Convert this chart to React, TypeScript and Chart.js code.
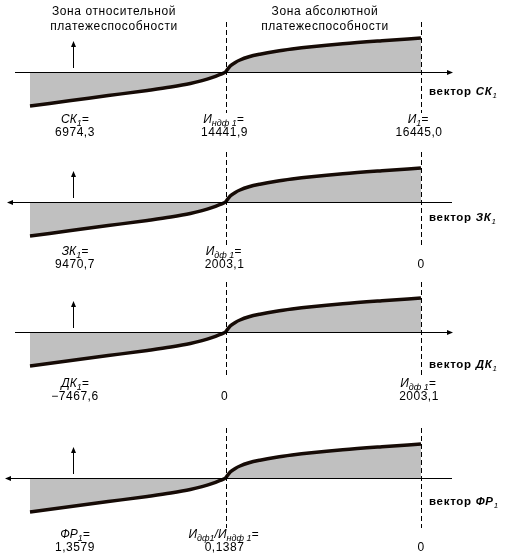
import React, { useEffect, useRef } from 'react';
import { Chart, registerables } from 'chart.js';

Chart.register(...registerables);

// curve shape: x 0 = left end, 50 = threshold, 100 = right end
const curveX = [0, 10, 20, 30, 36, 41, 44, 46.5, 48.5, 50, 51.2, 52.5, 53.7, 56, 58.8, 63, 67, 72, 80, 90, 100];
const curveY = [-34, -28.8, -23.6, -18.4, -15, -11.5, -8.6, -5.6, -2.6, 0, 6, 9.6, 12, 15.2, 17.8, 20.8, 23, 25.3, 28.3, 31.3, 34];

// marks on the horizontal axis
const THRESHOLD = 50;
const END = 100;

type Seg = { t: string; i?: boolean; b?: boolean; sub?: boolean };

const vectorNames = ['СК', 'ЗК', 'ДК', 'ФР'];
const leftValues = ['6974,3', '9470,7', '−7467,6', '1,3579'];
const midValues = ['14441,9', '2003,1', '0', '0,1387'];
const rightValues = ['16445,0', '0', '2003,1', '0'];

const I: Seg = { t: 'И', i: true };
const EQ: Seg = { t: '=', i: true };
const midCaptions: Seg[][] = [
  [I, { t: 'ндф 1', i: true, sub: true }, EQ],
  [I, { t: 'дф 1', i: true, sub: true }, EQ],
  [],
  [I, { t: 'дф1', i: true, sub: true }, { t: '/', i: true }, I, { t: 'ндф 1', i: true, sub: true }, EQ],
];
const rightCaptions: Seg[][] = [
  [I, { t: '1', i: true, sub: true }, EQ],
  [],
  [I, { t: 'дф 1', i: true, sub: true }, EQ],
  [],
];
const zoneTitles = [
  ['Зона относительной', 'платежеспособности'],
  ['Зона абсолютной', 'платежеспособности'],
];

// layout (pixels)
const W = 506;
const H = 560;
const PX_PER_UNIT = 3.91;
const X0_PX = 30;
const axisPx = [72, 202, 332, 478];
const arrowRight = [true, false, true, false];
const axisStartPx = [15, 8, 15, 6];
const axisEndPx = 452;
const captionDy = [48, 50, 52, 57];
const vectorDy = [20, 16, 33, 24];

const FONT = '"Liberation Sans", Arial, sans-serif';

function fontOf(s: Seg, size: number) {
  const sz = s.sub ? Math.round(size * 0.72) : size;
  return `${s.i ? 'italic ' : ''}${s.b ? 'bold ' : ''}${sz}px ${FONT}`;
}

function drawSegs(ctx: any, segs: Seg[], x: number, y: number, size: number, align: 'left' | 'center', spacing = 0) {
  ctx.letterSpacing = spacing + 'px';
  let w = 0;
  segs.forEach(s => {
    ctx.font = fontOf(s, size);
    w += ctx.measureText(s.t).width;
  });
  let cx = align === 'center' ? x - w / 2 : x;
  ctx.textAlign = 'left';
  ctx.textBaseline = 'middle';
  segs.forEach(s => {
    ctx.font = fontOf(s, size);
    ctx.fillText(s.t, cx, y + (s.sub ? size * 0.3 : 0));
    cx += ctx.measureText(s.t).width;
  });
  ctx.letterSpacing = '0px';
}

function arrowHead(ctx: any, x: number, y: number, dx: number, dy: number) {
  // filled head with tip at (x, y) pointing along (dx, dy)
  const len = 6;
  const half = 2.5;
  const px = -dy;
  const py = dx;
  ctx.beginPath();
  ctx.moveTo(x, y);
  ctx.lineTo(x - dx * len + px * half, y - dy * len + py * half);
  ctx.lineTo(x - dx * len - px * half, y - dy * len - py * half);
  ctx.closePath();
  ctx.fill();
}

const decor = {
  id: 'decor',
  afterDatasetsDraw(chart: any) {
    const { ctx } = chart;
    const xs = chart.scales.x;
    const xT = xs.getPixelForValue(THRESHOLD);
    const xE = xs.getPixelForValue(END);
    const xUp = xs.getPixelForValue(11);
    ctx.save();
    ctx.fillStyle = '#000';
    ctx.strokeStyle = '#000';

    zoneTitles.forEach((lines, k) => {
      const cx = k === 0 ? 114 : 325;
      lines.forEach((l, j) => drawSegs(ctx, [{ t: l }], cx, 12 + j * 14.5, 12, 'center', 0.6));
    });

    vectorNames.forEach((name, i) => {
      const y0 = chart.scales['y' + i].getPixelForValue(0);

      // horizontal axis
      ctx.lineWidth = 1;
      ctx.setLineDash([]);
      ctx.beginPath();
      ctx.moveTo(axisStartPx[i], y0 + 0.5);
      ctx.lineTo(axisEndPx, y0 + 0.5);
      ctx.stroke();
      if (arrowRight[i]) arrowHead(ctx, axisEndPx + 1, y0 + 0.5, 1, 0);
      else arrowHead(ctx, axisStartPx[i] - 1, y0 + 0.5, -1, 0);

      // small upward arrow
      ctx.beginPath();
      ctx.moveTo(Math.round(xUp) + 0.5, y0 - 4);
      ctx.lineTo(Math.round(xUp) + 0.5, y0 - 26);
      ctx.stroke();
      arrowHead(ctx, Math.round(xUp) + 0.5, y0 - 31, 0, -1);

      // dashed verticals
      ctx.setLineDash([5, 3]);
      [xT, xE].forEach(xp => {
        ctx.beginPath();
        ctx.moveTo(Math.round(xp) + 0.5, y0 - 50);
        ctx.lineTo(Math.round(xp) + 0.5, y0 + captionDy[i] - 7);
        ctx.stroke();
      });
      ctx.setLineDash([]);

      // vector label
      drawSegs(ctx, [{ t: 'вектор ', b: true }, { t: name, b: true, i: true }, { t: '1', i: true, sub: true }],
        429, y0 + vectorDy[i], 11.5, 'left', 0.7);

      // captions and values
      const yc = y0 + captionDy[i];
      const yv = yc + 13;
      const xL = xs.getPixelForValue(11.5);
      drawSegs(ctx, [{ t: name, i: true }, { t: '1', i: true, sub: true }, EQ], xL, yc, 12, 'center');
      drawSegs(ctx, [{ t: leftValues[i] }], xL, yv, 12, 'center', 0.5);
      if (midCaptions[i].length) drawSegs(ctx, midCaptions[i], xT - 2, yc, 12, 'center');
      drawSegs(ctx, [{ t: midValues[i] }], xT - 1, yv, 12, 'center', 0.5);
      if (rightCaptions[i].length) drawSegs(ctx, rightCaptions[i], xE - 3, yc, 12, 'center');
      drawSegs(ctx, [{ t: rightValues[i] }], xE - (rightValues[i] === '0' ? 0 : 2), yv, 12, 'center', 0.5);
    });
    ctx.restore();
  },
};

export default function App() {
  const canvasRef = useRef<HTMLCanvasElement>(null);
  const chartRef = useRef<Chart | null>(null);

  useEffect(() => {
    if (!canvasRef.current) return;
    if (chartRef.current) chartRef.current.destroy();

    const points = curveX.map((x, j) => ({ x, y: curveY[j] }));
    const scales: any = {
      x: { type: 'linear', min: -X0_PX / PX_PER_UNIT, max: (W - X0_PX) / PX_PER_UNIT, display: false },
    };
    axisPx.forEach((a, i) => {
      scales['y' + i] = { type: 'linear', min: a - H, max: a, display: false };
    });

    chartRef.current = new Chart(canvasRef.current, {
      type: 'line',
      data: {
        datasets: vectorNames.map((name, i) => ({
          label: name,
          data: points,
          yAxisID: 'y' + i,
          borderColor: '#160b06',
          borderWidth: 3.5,
          backgroundColor: '#c0c0c0',
          fill: 'origin',
          cubicInterpolationMode: 'monotone',
          pointRadius: 0,
        })),
      },
      options: {
        animation: false,
        responsive: true,
        maintainAspectRatio: false,
        events: [],
        layout: { padding: 0 },
        plugins: { legend: { display: false }, tooltip: { enabled: false } },
        scales,
      },
      plugins: [decor],
    } as any);

    return () => {
      if (chartRef.current) {
        chartRef.current.destroy();
        chartRef.current = null;
      }
    };
  }, []);

  return (
    <div style={{ position: 'absolute', left: 0, top: 0, width: W, height: H, background: '#fff' }}>
      <canvas ref={canvasRef}></canvas>
    </div>
  );
}
